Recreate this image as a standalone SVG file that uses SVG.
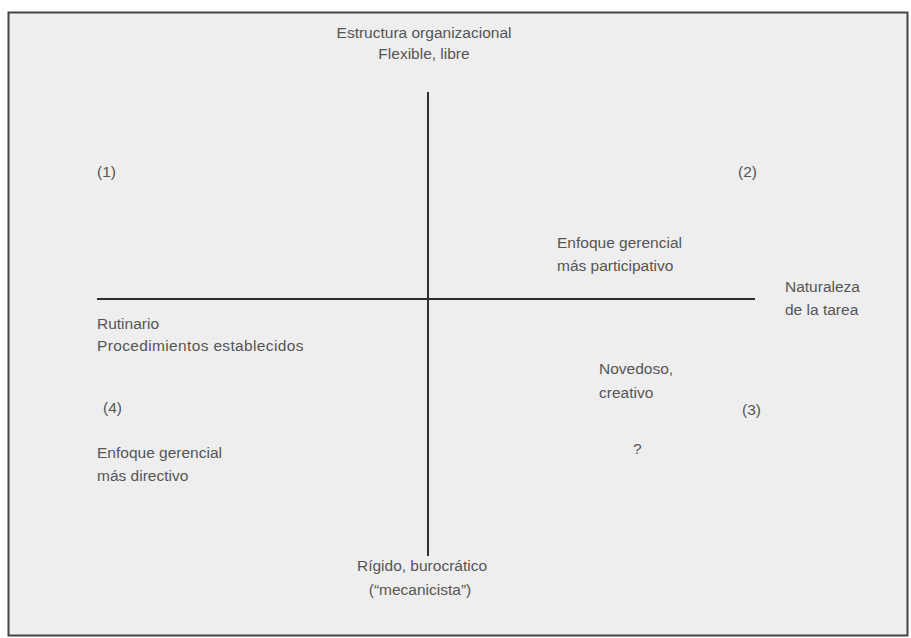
<svg xmlns="http://www.w3.org/2000/svg" width="911" height="638" viewBox="0 0 911 638">
<style>
text{font-family:"Liberation Sans",Arial,sans-serif;font-size:15.5px;fill:#555}
.c{text-anchor:middle}
.ax{stroke:#2f2f2f;stroke-width:2;fill:none}
</style>
<rect x="0" y="0" width="911" height="638" fill="#ffffff"/>
<rect id="frame" x="8.5" y="12.5" width="899" height="623" fill="#eeeeee" stroke="#444" stroke-width="2"/>
<g id="connectors">
<line class="ax" x1="97" y1="299" x2="755" y2="299"/>
<line class="ax" x1="428" y1="92" x2="428" y2="556"/>
</g>
<g id="top-label">
<text class="c" x="424" y="38">Estructura organizacional</text>
<text class="c" x="424" y="59">Flexible, libre</text>
</g>
<g id="q1"><text x="97" y="177">(1)</text></g>
<g id="q2"><text x="738" y="177">(2)</text></g>
<g id="participativo">
<text x="557" y="248">Enfoque gerencial</text>
<text x="557" y="271">más participativo</text>
</g>
<g id="right-label">
<text x="785" y="292">Naturaleza</text>
<text x="785" y="315">de la tarea</text>
</g>
<g id="rutinario">
<text x="97" y="329">Rutinario</text>
<text x="97" y="351" style="letter-spacing:0.35px">Procedimientos establecidos</text>
</g>
<g id="novedoso">
<text x="599" y="374">Novedoso,</text>
<text x="599" y="398">creativo</text>
</g>
<g id="q3"><text x="742" y="415">(3)</text></g>
<g id="q4"><text x="103" y="413">(4)</text></g>
<g id="question"><text x="633" y="454">?</text></g>
<g id="directivo">
<text x="97" y="458">Enfoque gerencial</text>
<text x="97" y="481">más directivo</text>
</g>
<g id="bottom-label">
<text class="c" x="422" y="571">Rígido, burocrático</text>
<text class="c" x="420" y="595">(“mecanicista”)</text>
</g>
</svg>
